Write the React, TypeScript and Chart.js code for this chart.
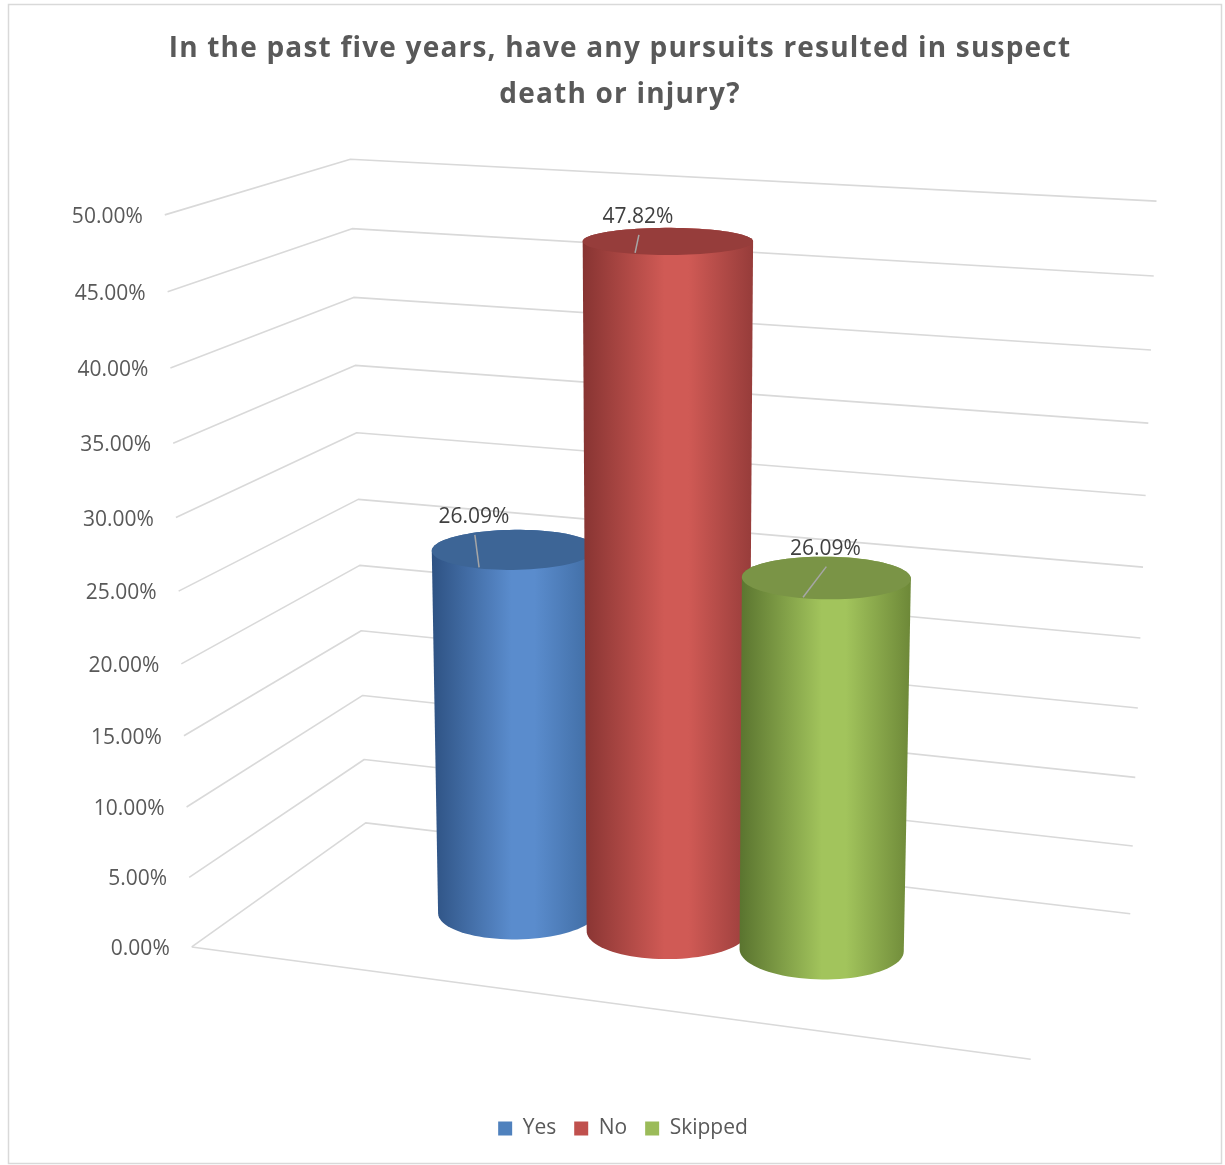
import React, { useEffect, useRef } from "react";
import { Chart, registerables } from "chart.js";

Chart.register(...registerables);

// ---------------- data ----------------
const CATEGORIES = [""];
const SERIES_NAMES = ["Yes", "No", "Skipped"];
const SERIES_VALUES = [26.09, 47.82, 26.09];
const Y_MIN = 0;
const Y_MAX = 50;
const Y_STEP = 5;
const TITLE_LINES = [
  "In the past five years, have any pursuits resulted in suspect",
  "death or injury?",
];

// ---------------- styles ----------------
const LEGEND_COLORS = ["#4f81bd", "#c0504d", "#9bbb59"];
const BODY_DARK = ["#2e5283", "#873432", "#5a742f"];
const BODY_LIGHT = ["#5a8ccd", "#d05a55", "#a2c45c"];
const BODY_RIGHT = ["#3e6aa0", "#963c3a", "#6d8838"];
const TOP_COLORS = ["#3d6596", "#963d3b", "#7a9446"];
const LABEL_DX = [-40, -30, -1];
const LABEL_DY = [1, 3, 6];
const LEADER_END_DX = [7, 0, -23];

// frame calibration: [X (0..1 along categories), Y (0..1 of value range), Z (0 front .. 1 back), px, py]
const FRAME_CAL: number[][] = [
  [0, 0, 0, 192, 947],
  [1, 0, 0, 1031, 1059],
  [0, 0, 1, 365, 823],
  [1, 0, 1, 1130, 914],
  [0, 1, 0, 165, 215],
  [0, 1, 1, 350, 159],
  [1, 1, 1, 1157, 201],
  [0, 0.9, 0, 167, 292],
  [0, 0.9, 1, 352, 229],
  [1, 0.9, 1, 1153, 276],
  [0, 0.8, 0, 170, 368],
  [0, 0.8, 1, 355, 297],
  [1, 0.8, 1, 1151, 350],
  [0, 0.1, 0, 189, 877],
  [0, 0.2, 0, 187, 807],
  [1, 0.1, 1, 1133, 846],
];
const DEPTH_ASPECT = 2.1; // Z units per X unit for a true circle
const CYL_DEPTH_CENTER = 0.5;

function fitProjection(pts: number[][]) {
  const n = 11;
  const M: number[][] = Array.from({ length: n }, () => new Array(n).fill(0));
  const r: number[] = new Array(n).fill(0);
  const add = (row: number[], val: number) => {
    for (let i = 0; i < n; i++) {
      for (let j = 0; j < n; j++) M[i][j] += row[i] * row[j];
      r[i] += row[i] * val;
    }
  };
  for (const [X, Y, Z, pu, pv] of pts) {
    const u = pu / 1000;
    const v = pv / 1000;
    add([X, Y, Z, 1, 0, 0, 0, 0, -u * X, -u * Y, -u * Z], u);
    add([0, 0, 0, 0, X, Y, Z, 1, -v * X, -v * Y, -v * Z], v);
  }
  for (let c = 0; c < n; c++) {
    let p = c;
    for (let k = c + 1; k < n; k++) if (Math.abs(M[k][c]) > Math.abs(M[p][c])) p = k;
    [M[c], M[p]] = [M[p], M[c]];
    [r[c], r[p]] = [r[p], r[c]];
    for (let k = c + 1; k < n; k++) {
      const f = M[k][c] / M[c][c];
      for (let j = c; j < n; j++) M[k][j] -= f * M[c][j];
      r[k] -= f * r[c];
    }
  }
  const x = new Array(n).fill(0);
  for (let i = n - 1; i >= 0; i--) {
    let s = r[i];
    for (let j = i + 1; j < n; j++) s -= M[i][j] * x[j];
    x[i] = s / M[i][i];
  }
  return (X: number, Y: number, Z: number) => {
    const w = x[8] * X + x[9] * Y + x[10] * Z + 1;
    return {
      x: ((x[0] * X + x[1] * Y + x[2] * Z + x[3]) / w) * 1000,
      y: ((x[4] * X + x[5] * Y + x[6] * Z + x[7]) / w) * 1000,
    };
  };
}

type Pt = { x: number; y: number };
function convexHull(points: Pt[]): Pt[] {
  const pts = points.slice().sort((a, b) => (a.x === b.x ? a.y - b.y : a.x - b.x));
  const cross = (o: Pt, a: Pt, b: Pt) => (a.x - o.x) * (b.y - o.y) - (a.y - o.y) * (b.x - o.x);
  const lower: Pt[] = [];
  for (const p of pts) {
    while (lower.length >= 2 && cross(lower[lower.length - 2], lower[lower.length - 1], p) <= 0) lower.pop();
    lower.push(p);
  }
  const upper: Pt[] = [];
  for (let i = pts.length - 1; i >= 0; i--) {
    const p = pts[i];
    while (upper.length >= 2 && cross(upper[upper.length - 2], upper[upper.length - 1], p) <= 0) upper.pop();
    upper.push(p);
  }
  upper.pop();
  lower.pop();
  return lower.concat(upper);
}

const project = fitProjection(FRAME_CAL);

const frame3dPlugin = {
  id: "frame3d",
  beforeDraw(chart: any) {
    const ctx = chart.ctx;
    ctx.save();
    ctx.fillStyle = "#ffffff";
    ctx.fillRect(0, 0, chart.width, chart.height);
    ctx.strokeStyle = "#d9d9d9";
    ctx.lineWidth = 1.5;
    ctx.strokeRect(8.5, 4.5, chart.width - 12, chart.height - 6);

    // title (drawn with letter spacing to match the original face width)
    ctx.fillStyle = "#595959";
    ctx.font = 'bold 28px "Open Sans"';
    (ctx as any).letterSpacing = "1.2px";
    ctx.textAlign = "center";
    ctx.textBaseline = "middle";
    TITLE_LINES.forEach((line, i) => ctx.fillText(line, 620, 49 + i * 46));
    (ctx as any).letterSpacing = "0px";
    ctx.restore();
  },
  beforeDatasetsDraw(chart: any) {
    const ctx = chart.ctx;
    const ys = chart.scales.y;
    const area = chart.chartArea;
    const p0 = ys.getPixelForValue(Y_MIN);
    const pMax = ys.getPixelForValue(Y_MAX);
    const norm = (v: number) => (p0 - ys.getPixelForValue(v)) / (p0 - pMax);

    const tickVals: number[] = [];
    for (let v = Y_MIN; v <= Y_MAX + 1e-9; v += Y_STEP) tickVals.push(v);

    ctx.save();
    // gridlines: left wall + back wall
    ctx.strokeStyle = "#d9d9d9";
    ctx.lineWidth = 1.6;
    ctx.lineJoin = "round";
    for (const v of tickVals) {
      const Y = norm(v);
      const a = project(0, Y, 0);
      const b = project(0, Y, 1);
      const c = project(1, Y, 1);
      ctx.beginPath();
      ctx.moveTo(a.x, a.y);
      ctx.lineTo(b.x, b.y);
      ctx.lineTo(c.x, c.y);
      ctx.stroke();
    }
    // floor front edge
    const f0 = project(0, 0, 0);
    const f1 = project(1, 0, 0);
    ctx.beginPath();
    ctx.moveTo(f0.x, f0.y);
    ctx.lineTo(f1.x, f1.y);
    ctx.stroke();

    // tick labels
    ctx.fillStyle = "#595959";
    ctx.font = '21px "Open Sans"';
    ctx.textAlign = "right";
    ctx.textBaseline = "middle";
    for (const v of tickVals) {
      const a = project(0, norm(v), 0);
      ctx.fillText(v.toFixed(2) + "%", a.x - 22, a.y + 2);
    }

    // cylinders
    const N = 90;
    chart.data.datasets.forEach((ds: any, i: number) => {
      const meta = chart.getDatasetMeta(i);
      const bar: any = meta.data[0];
      if (!bar) return;
      const Xc = (bar.x - area.left) / (area.right - area.left);
      const rX = bar.width / (area.right - area.left) / 2;
      const rZ = rX * DEPTH_ASPECT;
      const t = norm(ds.data[0]);
      const bottom: Pt[] = [];
      const top: Pt[] = [];
      for (let k = 0; k < N; k++) {
        const a = (k / N) * Math.PI * 2;
        const X = Xc + rX * Math.cos(a);
        const Z = CYL_DEPTH_CENTER + rZ * Math.sin(a);
        bottom.push(project(X, 0, Z));
        top.push(project(X, t, Z));
      }
      const hull = convexHull(bottom.concat(top));
      let minX = Infinity;
      let maxX = -Infinity;
      for (const p of hull) {
        minX = Math.min(minX, p.x);
        maxX = Math.max(maxX, p.x);
      }
      const g = ctx.createLinearGradient(minX, 0, maxX, 0);
      g.addColorStop(0, BODY_DARK[i]);
      g.addColorStop(0.48, BODY_LIGHT[i]);
      g.addColorStop(0.62, BODY_LIGHT[i]);
      g.addColorStop(1, BODY_RIGHT[i]);
      ctx.fillStyle = g;
      ctx.beginPath();
      hull.forEach((p, k) => (k ? ctx.lineTo(p.x, p.y) : ctx.moveTo(p.x, p.y)));
      ctx.closePath();
      ctx.fill();

      ctx.fillStyle = TOP_COLORS[i];
      ctx.beginPath();
      top.forEach((p, k) => (k ? ctx.lineTo(p.x, p.y) : ctx.moveTo(p.x, p.y)));
      ctx.closePath();
      ctx.fill();

      // data label + leader line
      let cx = 0;
      let minY = Infinity;
      for (const p of top) {
        cx += p.x / N;
        minY = Math.min(minY, p.y);
      }
      const lx = cx + LABEL_DX[i];
      const ly = minY - 14 + LABEL_DY[i];
      const ex = lx + LEADER_END_DX[i];
      let best = top[0];
      let bestD = Infinity;
      const cyTop = top.reduce((s, p) => s + p.y / N, 0);
      for (const p of top) {
        if (p.y < cyTop) continue;
        const d = Math.abs(p.x - ex);
        if (d < bestD) {
          bestD = d;
          best = p;
        }
      }
      ctx.strokeStyle = "#a6a6a6";
      ctx.lineWidth = 1.5;
      ctx.beginPath();
      ctx.moveTo(lx + 1, ly + 18);
      ctx.lineTo(best.x, best.y - 1);
      ctx.stroke();

      ctx.fillStyle = "#404040";
      ctx.font = '21px "Open Sans"';
      ctx.textAlign = "center";
      ctx.textBaseline = "middle";
      ctx.fillText(ds.data[0].toFixed(2) + "%", lx, ly);
    });
    ctx.restore();
    return false;
  },
};

export default function App() {
  const canvasRef = useRef<HTMLCanvasElement | null>(null);

  useEffect(() => {
    const canvas = canvasRef.current;
    if (!canvas) return;
    const chart = new Chart(canvas, {
      type: "bar",
      data: {
        labels: CATEGORIES,
        datasets: SERIES_NAMES.map((name, i) => ({
          label: name,
          data: [SERIES_VALUES[i]],
          backgroundColor: LEGEND_COLORS[i],
          borderWidth: 0,
          categoryPercentage: 0.57,
          barPercentage: 1,
        })),
      },
      options: {
        responsive: false,
        animation: false,
        devicePixelRatio: 1,
        layout: { padding: { top: 110, bottom: 16, left: 41, right: 20 } },
        scales: {
          x: { display: false },
          y: { display: false, min: Y_MIN, max: Y_MAX, ticks: { stepSize: Y_STEP } },
        },
        plugins: {
          title: { display: false },
          legend: {
            display: true,
            position: "bottom",
            labels: {
              color: "#595959",
              font: { family: "'Open Sans'", size: 21 },
              boxWidth: 14,
              boxHeight: 14,
              padding: 18,
            },
          },
          tooltip: { enabled: false },
        },
      },
      plugins: [frame3dPlugin],
    });
    return () => chart.destroy();
  }, []);

  return (
    <div style={{ position: "absolute", left: 0, top: 0, width: 1225, height: 1165, background: "#fff" }}>
      <canvas ref={canvasRef} width={1225} height={1165} style={{ display: "block" }} />
    </div>
  );
}
